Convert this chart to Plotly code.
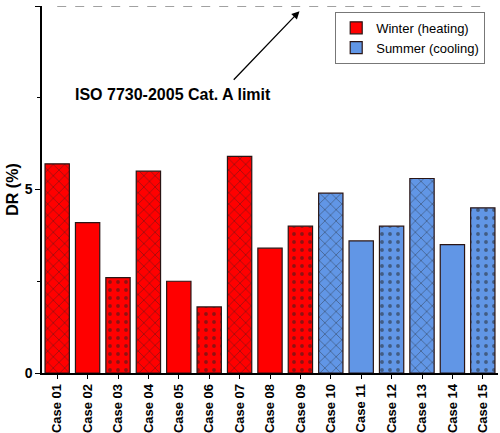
import plotly.graph_objects as go

cases = ["Case 01", "Case 02", "Case 03", "Case 04", "Case 05", "Case 06", "Case 07", "Case 08",
         "Case 09", "Case 10", "Case 11", "Case 12", "Case 13", "Case 14", "Case 15"]
dr_values = [5.7, 4.1, 2.6, 5.5, 2.5, 1.8, 5.9, 3.4, 4.0, 4.9, 3.6, 4.0, 5.3, 3.5, 4.5]
season = ["W"] * 9 + ["S"] * 6
patterns = ["x", "", ".", "x", "", ".", "x", "", ".", "x", "", ".", "x", "", "."]
limit_value = 10
limit_label = "ISO 7730-2005 Cat. A limit"

RED = "#ff0000"
BLUE = "#6196e6"
FONT = "Liberation Sans, Arial, sans-serif"
pos = list(range(1, len(cases) + 1))

fig = go.Figure()
for key, color, name in [("W", RED, "Winter (heating)"), ("S", BLUE, "Summer (cooling)")]:
    idx = [i for i, s in enumerate(season) if s == key]
    fig.add_trace(go.Bar(
        x=[pos[i] for i in idx], y=[dr_values[i] for i in idx],
        marker=dict(color=color, line=dict(color="#2a1515", width=1.2),
                    pattern=dict(shape=[patterns[i] for i in idx], fgcolor="#222222",
                                 size=8, solidity=0.18, fillmode="overlay")),
        width=0.8, showlegend=False, hoverinfo="skip"))
    fig.add_trace(go.Bar(x=[None], y=[None], name=name,
                         marker=dict(color=color, line=dict(color="#2a1515", width=1.2))))

fig.add_shape(type="line", xref="x", yref="y", x0=1, x1=15, y0=limit_value, y1=limit_value,
              line=dict(color="#444444", width=1.2, dash="dash"))
fig.add_annotation(x=1.52, y=7.58, xref="x", yref="y", text="<b>" + limit_label + "</b>",
                   showarrow=False, xanchor="left", yanchor="middle",
                   font=dict(family=FONT, size=16, color="black"))
fig.add_annotation(x=8.97, y=9.86, ax=6.76, ay=7.95, xref="x", yref="y", axref="x", ayref="y",
                   text="", showarrow=True, arrowhead=2, arrowsize=1.2, arrowwidth=1.3,
                   arrowcolor="black")

fig.update_layout(
    width=500, height=433, margin=dict(l=42, r=2, t=6, b=60, autoexpand=False),
    plot_bgcolor="white", paper_bgcolor="white", barmode="overlay",
    font=dict(family=FONT, size=12, color="black"),
    legend=dict(x=0.643, y=0.984, xanchor="left", yanchor="top",
                bordercolor="#777777", borderwidth=1, bgcolor="white",
                font=dict(family=FONT, size=13), tracegroupgap=0),
    xaxis=dict(range=[0.5, 15.5], showline=True, linecolor="black", linewidth=1.5,
               tickvals=pos, ticktext=["<b>" + c + "</b>" for c in cases],
               ticks="outside", ticklen=4, tickcolor="black", tickangle=-90, automargin=False,
               tickfont=dict(family=FONT, size=13, color="black"), showgrid=False, zeroline=False),
    yaxis=dict(range=[0, 10], showline=True, linecolor="black", linewidth=1.5,
               tickvals=[0, 5, 10], ticktext=["<b>0</b>", "<b>5</b>", "<b>10</b>"],
               ticks="outside", ticklen=5, tickcolor="black", automargin=False,
               minor=dict(tickvals=[2.5, 7.5], ticks="outside", ticklen=3, tickcolor="black"),
               tickfont=dict(family=FONT, size=14, color="black"), showgrid=False, zeroline=False,
               title=dict(text="<b>DR (%)</b>", font=dict(family=FONT, size=16), standoff=2)),
)
fig.write_html("out.html", config={"displayModeBar": False},
               post_script="document.body.style.margin='0';document.body.style.overflow='hidden';")
